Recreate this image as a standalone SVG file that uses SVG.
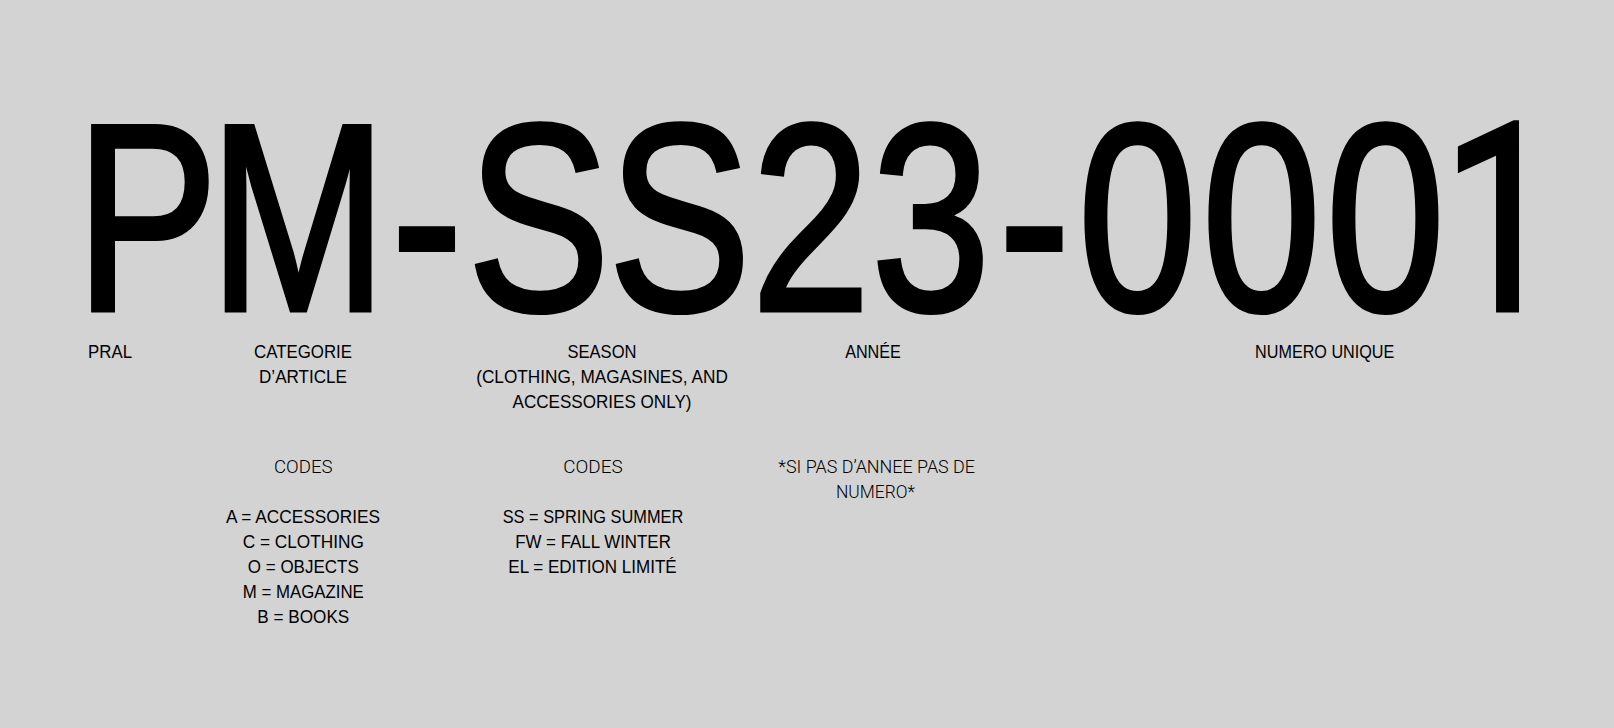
<svg xmlns="http://www.w3.org/2000/svg" width="1614" height="728" viewBox="0 0 1614 728">
<style>
.big{font-family:"Liberation Sans",Arial,sans-serif;font-size:266.8px;fill:#000;stroke:#000;stroke-width:5px;stroke-linejoin:miter}
.one{font-family:Roboto,"Liberation Sans",sans-serif;font-size:262px}
.lbl{font-family:"Liberation Sans",Arial,sans-serif;font-size:18.5px;fill:#000;text-anchor:middle}
.lt{font-family:Roboto,"Liberation Sans",sans-serif;font-weight:300;font-size:18.5px;fill:#000;text-anchor:middle}
</style>
<rect width="1614" height="728" fill="#d3d3d3"/>
<g id="code">
<text class="big" transform="scale(0.8,1)" x="94.5 261.5 489.3 584.3 760.5 939.4 1089.4 1248.6 1347.6 1502.6 1657.6" y="310">PM-SS23-000</text>
<text class="big one" transform="scale(0.8,1)" x="1803" y="310">1</text>
</g>
<g id="pral">
<text class="lbl" x="110" y="358" textLength="44" lengthAdjust="spacingAndGlyphs">PRAL</text>
</g>
<g id="categorie">
<text class="lbl" x="303" y="358" textLength="98" lengthAdjust="spacingAndGlyphs">CATEGORIE</text>
<text class="lbl" x="303" y="383" textLength="88" lengthAdjust="spacingAndGlyphs">D’ARTICLE</text>
<text class="lt" x="303.3" y="473" textLength="58.7" lengthAdjust="spacingAndGlyphs">CODES</text>
<text class="lbl" x="303" y="523" textLength="154" lengthAdjust="spacingAndGlyphs">A = ACCESSORIES</text>
<text class="lbl" x="303.3" y="548" textLength="121.3" lengthAdjust="spacingAndGlyphs">C = CLOTHING</text>
<text class="lbl" x="303.3" y="573" textLength="111" lengthAdjust="spacingAndGlyphs">O = OBJECTS</text>
<text class="lbl" x="303.3" y="598" textLength="121" lengthAdjust="spacingAndGlyphs">M = MAGAZINE</text>
<text class="lbl" x="303.3" y="623" textLength="92" lengthAdjust="spacingAndGlyphs">B = BOOKS</text>
</g>
<g id="season">
<text class="lbl" x="602" y="358" textLength="69" lengthAdjust="spacingAndGlyphs">SEASON</text>
<text class="lbl" x="602" y="383" textLength="251.7" lengthAdjust="spacingAndGlyphs">(CLOTHING, MAGASINES, AND</text>
<text class="lbl" x="602" y="408" textLength="179" lengthAdjust="spacingAndGlyphs">ACCESSORIES ONLY)</text>
<text class="lt" x="593" y="473" textLength="59.4" lengthAdjust="spacingAndGlyphs">CODES</text>
<text class="lbl" x="593" y="523" textLength="180.6" lengthAdjust="spacingAndGlyphs">SS = SPRING SUMMER</text>
<text class="lbl" x="593" y="548" textLength="155.7" lengthAdjust="spacingAndGlyphs">FW = FALL WINTER</text>
<text class="lbl" x="592.5" y="573" textLength="168.4" lengthAdjust="spacingAndGlyphs">EL = EDITION LIMITÉ</text>
</g>
<g id="annee">
<text class="lbl" x="873" y="358" textLength="55.7" lengthAdjust="spacingAndGlyphs">ANNÉE</text>
<text class="lt" x="876.7" y="473" textLength="196.7" lengthAdjust="spacingAndGlyphs">*SI PAS D’ANNEE PAS DE</text>
<text class="lt" x="875.5" y="498" textLength="79" lengthAdjust="spacingAndGlyphs">NUMERO*</text>
</g>
<g id="numero">
<text class="lbl" x="1324.7" y="358" textLength="139.3" lengthAdjust="spacingAndGlyphs">NUMERO UNIQUE</text>
</g>
</svg>
